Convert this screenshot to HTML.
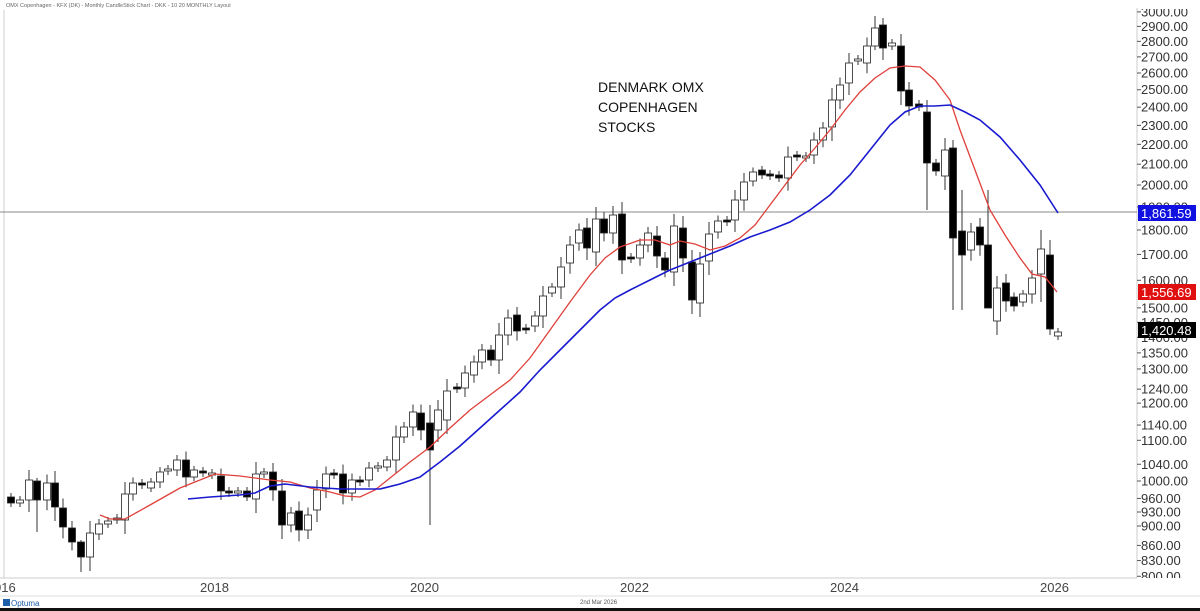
<!DOCTYPE html>
<html><head><meta charset="utf-8"><style>
html,body{margin:0;padding:0;background:#fff;width:1200px;height:611px;overflow:hidden}
svg{display:block;font-family:"Liberation Sans",sans-serif}
</style></head><body>
<svg id="s" width="1200" height="611" viewBox="0 0 1200 611" xmlns="http://www.w3.org/2000/svg">
<defs><clipPath id="cp"><rect x="0" y="9" width="1200" height="569"/></clipPath></defs>
<rect width="1200" height="611" fill="#fff"/>
<text x="6" y="7" font-size="5.5" fill="#666">OMX Copenhagen - KFX (DK) - Monthly CandleStick Chart - DKK - 10 20 MONTHLY Layout</text>
<line x1="4" y1="10" x2="4" y2="578" stroke="#ccc"/>
<line x1="1137" y1="8" x2="1137" y2="578" stroke="#ccc"/>
<line x1="0" y1="578" x2="1137" y2="578" stroke="#ccc"/>
<line x1="0" y1="596" x2="1200" y2="596" stroke="#ddd"/>
<rect x="0" y="608" width="1200" height="3" fill="#111"/>
<line x1="0" y1="212" x2="1137" y2="212" stroke="#888" stroke-width="1"/>
<text x="598" y="92" font-size="14" fill="#111">DENMARK OMX</text>
<text x="598" y="112" font-size="14" fill="#111">COPENHAGEN</text>
<text x="598" y="132" font-size="14" fill="#111">STOCKS</text>
<g id="ax" font-size="13" fill="#333" clip-path="url(#cp)"></g>
<g id="c"></g>
<polyline fill="none" stroke="#e0403a" stroke-width="1.3" points="100,515 110,519 125,519 150,505 180,488 200,480 215,474 240,476 270,480 290,482 310,488 330,492 345,496 360,497 375,490 390,478 410,462 430,447 450,428 470,410 490,395 510,380 530,358 550,330 570,302 590,275 605,258 620,247 640,240 655,240 670,245 680,241 695,244 710,250 725,246 740,238 755,225 770,205 785,185 800,165 815,148 830,130 845,110 860,92 875,78 890,68 905,66 920,67 935,80 950,100 960,130 975,170 990,210 1005,235 1020,258 1032,274 1045,277 1057,292"/>
<polyline fill="none" stroke="#1a1ad0" stroke-width="1.6" points="188,499 210,497 240,495 255,493 270,486 285,484 310,487 340,489 380,489 400,484 420,477 440,462 460,446 480,428 500,410 520,392 540,370 560,350 580,330 600,310 615,298 630,290 650,280 670,270 690,262 710,254 730,246 750,237 770,230 790,222 810,210 830,195 850,175 870,150 890,125 905,112 920,106 935,106 950,105 965,112 980,120 1000,137 1020,160 1040,185 1058,213"/>
<rect x="1138" y="205" width="58" height="16" fill="#1010e0"/>
<text x="1141" y="218" font-size="13" fill="#fff">1,861.59</text>
<rect x="1138" y="284" width="58" height="16" fill="#e01010"/>
<text x="1141" y="297" font-size="13" fill="#fff">1,556.69</text>
<rect x="1138" y="322" width="58" height="16" fill="#000"/>
<text x="1141" y="335" font-size="13" fill="#fff">1,420.48</text>
<g font-size="13" fill="#444">
<text x="-6" y="592">016</text><text x="200" y="592">2018</text><text x="410" y="592">2020</text><text x="620" y="592">2022</text><text x="830" y="592">2024</text><text x="1040" y="592">2026</text>
</g>
<text x="580" y="604" font-size="6" fill="#555">2nd Mar 2026</text>
<rect x="3" y="599" width="7" height="7" fill="#1a5fa8"/>
<text x="11" y="606" font-size="8" fill="#1a5fa8">Optuma</text>
</svg>
<script>
var NS="http://www.w3.org/2000/svg";
function el(t,a,p){var e=document.createElementNS(NS,t);for(var k in a)e.setAttribute(k,a[k]);p.appendChild(e);return e;}
var ax=document.getElementById("ax");
var vals=[3000,2900,2800,2700,2600,2500,2400,2300,2200,2100,2000,1900,1800,1700,1600,1500,1450,1400,1350,1300,1240,1200,1140,1100,1040,1000,960,930,900,860,830,800];
vals.forEach(function(v){var y=481-427*Math.log(v/1000);
 el("line",{x1:1137,y1:y,x2:1141,y2:y,stroke:"#555"},ax);
 var t=el("text",{x:1141,y:y+4.5},ax);t.textContent=(v).toFixed(2);});
var C=[[11,497,503,1],[20,500,503,0],[29,480,500,0],[37,481,500,1],[47,483,500,0],[55,483,507,1],[63,508,527,1],[72,528,542,1],[81,542,557,1],[90,533,557,0],[99,524,534,0],[108,521,524,0],[117,518,520,0],[125,494,520,0],[133,483,494,0],[142,483,485,1],[151,482,488,0],[160,472,482,0],[168,469,471,0],[177,460,470,0],[186,460,477,1],[194,470,477,0],[203,471,473,1],[212,473,475,0],[221,476,491,1],[229,491,493,1],[238,491,493,0],[247,491,497,1],[256,474,499,0],[264,472,474,0],[273,472,490,1],[282,491,525,1],[291,513,525,0],[299,511,530,1],[308,515,530,0],[317,490,510,0],[326,474,489,0],[334,473,475,1],[343,474,493,1],[352,480,493,0],[360,480,482,1],[369,468,480,0],[378,466,468,0],[387,460,467,0],[396,437,460,0],[404,427,437,0],[413,412,427,0],[421,413,430,1],[430,423,450,1],[438,410,430,0],[447,391,420,0],[457,387,389,1],[465,373,388,0],[474,362,375,0],[482,350,362,0],[491,350,360,1],[499,335,360,0],[508,318,335,0],[517,315,331,1],[526,328,330,1],[535,316,326,0],[543,296,316,0],[552,287,293,0],[561,267,287,0],[570,245,263,0],[579,230,243,0],[587,228,248,1],[596,219,252,0],[604,219,233,1],[613,215,233,0],[622,214,260,1],[631,257,259,1],[640,245,258,0],[648,233,245,0],[657,236,256,1],[665,258,270,1],[674,226,272,0],[683,228,258,1],[692,262,300,1],[700,264,303,0],[709,234,261,0],[718,221,232,0],[727,220,222,1],[735,200,220,0],[744,182,200,0],[753,172,181,0],[762,170,175,1],[770,174,176,1],[779,175,178,1],[788,157,178,0],[797,155,157,1],[806,156,158,0],[814,140,155,0],[823,128,140,0],[832,100,127,0],[840,85,100,0],[849,63,83,0],[858,59,61,0],[867,46,63,0],[875,28,46,0],[883,25,48,1],[892,43,46,0],[901,46,91,1],[909,90,106,1],[919,104,107,1],[927,112,163,1],[936,163,171,1],[945,150,176,0],[953,148,238,1],[962,231,255,1],[971,232,250,0],[980,227,245,1],[988,245,308,1],[997,288,321,0],[1006,283,301,1],[1014,297,306,1],[1023,294,302,0],[1032,278,294,0],[1041,249,274,0],[1050,255,329,1],[1058,332,336,0]];
var g=document.getElementById("c");
var wl={430:[405,525],953:[140,310],962:[190,310],1041:[230,302],1050:[240,335],883:[18,60],875:[16,50],81:[540,572],37:[478,532],927:[100,210],988:[190,308]};
C.forEach(function(c){var x=c[0],t=c[1],b=c[2];var h=b-t;
 var hi=t-Math.max(4,Math.min(12,h*0.5)),lo=b+Math.max(4,Math.min(14,h*0.6));
 if(wl[x]){hi=wl[x][0];lo=wl[x][1];}
 el("line",{x1:x,y1:hi,x2:x,y2:lo,stroke:"#333","stroke-width":1},g);
 el("rect",{x:x-3.5,y:t,width:7,height:Math.max(h,2),fill:c[3]?"#000":"#fff",stroke:"#222","stroke-width":0.8},g);
});
</script>
</body></html>
